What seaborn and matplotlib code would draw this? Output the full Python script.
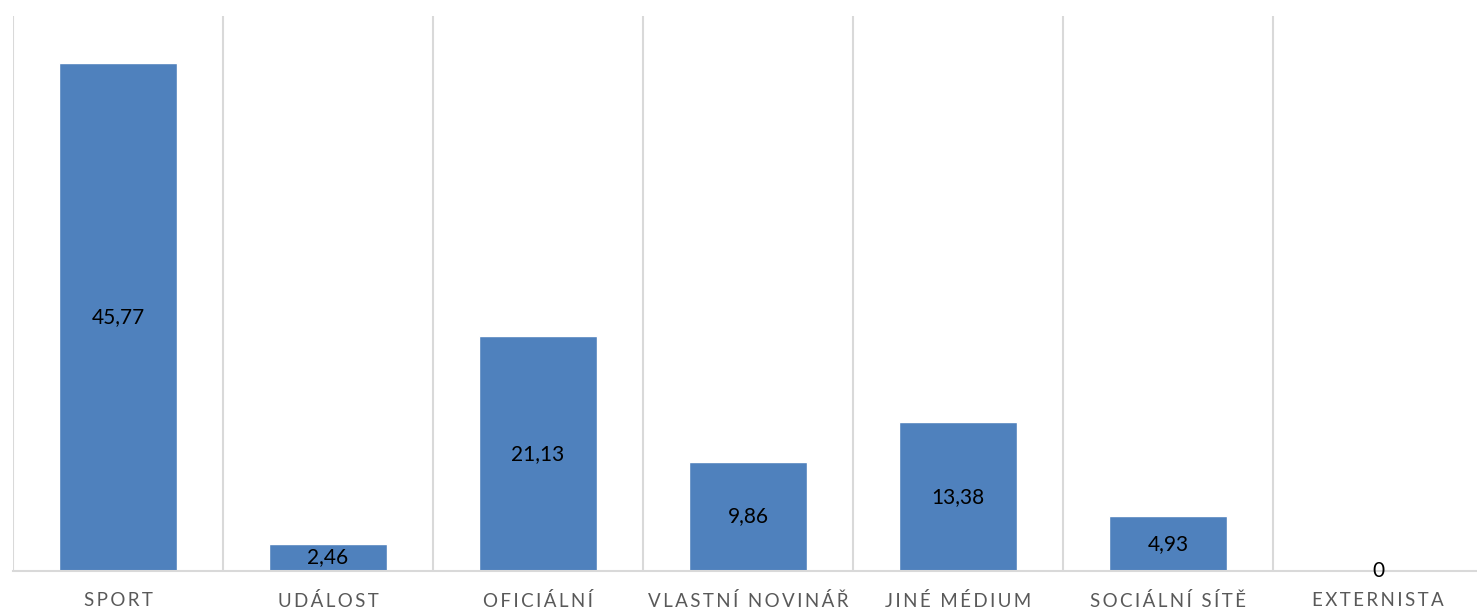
import numpy as np
import pandas as pd
import matplotlib
matplotlib.use("Agg")
import matplotlib.pyplot as plt
from matplotlib.ticker import FixedLocator
import seaborn as sns

categories = ["SPORT", "UDÁLOST", "OFICIÁLNÍ", "VLASTNÍ NOVINÁŘ", "JINÉ MÉDIUM", "SOCIÁLNÍ SÍTĚ", "EXTERNISTA"]
values = [45.77, 2.46, 21.13, 9.86, 13.38, 4.93, 0]
value_labels = ["45,77", "2,46", "21,13", "9,86", "13,38", "4,93", "0"]

sns.set_theme(style="white")
plt.rcParams['font.family'] = ['Lato', 'DejaVu Sans']

W, H = 1477, 610
fig = plt.figure(figsize=(W / 100, H / 100), dpi=100)
ax = fig.add_axes([13 / W, 39 / H, 1470 / W, 555 / H])

df = pd.DataFrame({"cat": categories, "val": values})
sns.barplot(data=df, x="cat", y="val", color="#4F81BD", saturation=1, width=0.562, ax=ax)

ax.set_ylim(0, 50)
ax.set_xlim(-0.5, len(categories) - 0.5)
ax.set_yticks([])
ax.set_xlabel("")
ax.set_ylabel("")

# vertical category separators
ax.xaxis.set_minor_locator(FixedLocator(np.arange(-0.5, len(categories), 1.0)))
ax.grid(False)
ax.grid(True, which="minor", axis="x", color="#D9D9D9", linewidth=1.5)
ax.set_axisbelow(True)

for s in ["top", "left", "right"]:
    ax.spines[s].set_visible(False)
ax.spines["bottom"].set_color("#D9D9D9")
ax.spines["bottom"].set_linewidth(1.5)

spaced = ["\u2009".join(list(c)) for c in categories]
ax.set_xticks(range(len(categories)))
ax.set_xticklabels(spaced, fontsize=13.5, color="#595959")
ax.tick_params(axis="x", which="both", length=0, pad=15)

for cont in ax.containers:
    ax.bar_label(cont, labels=value_labels, label_type="center", fontsize=15, color="black")

fig.savefig("out.png", dpi=100)
